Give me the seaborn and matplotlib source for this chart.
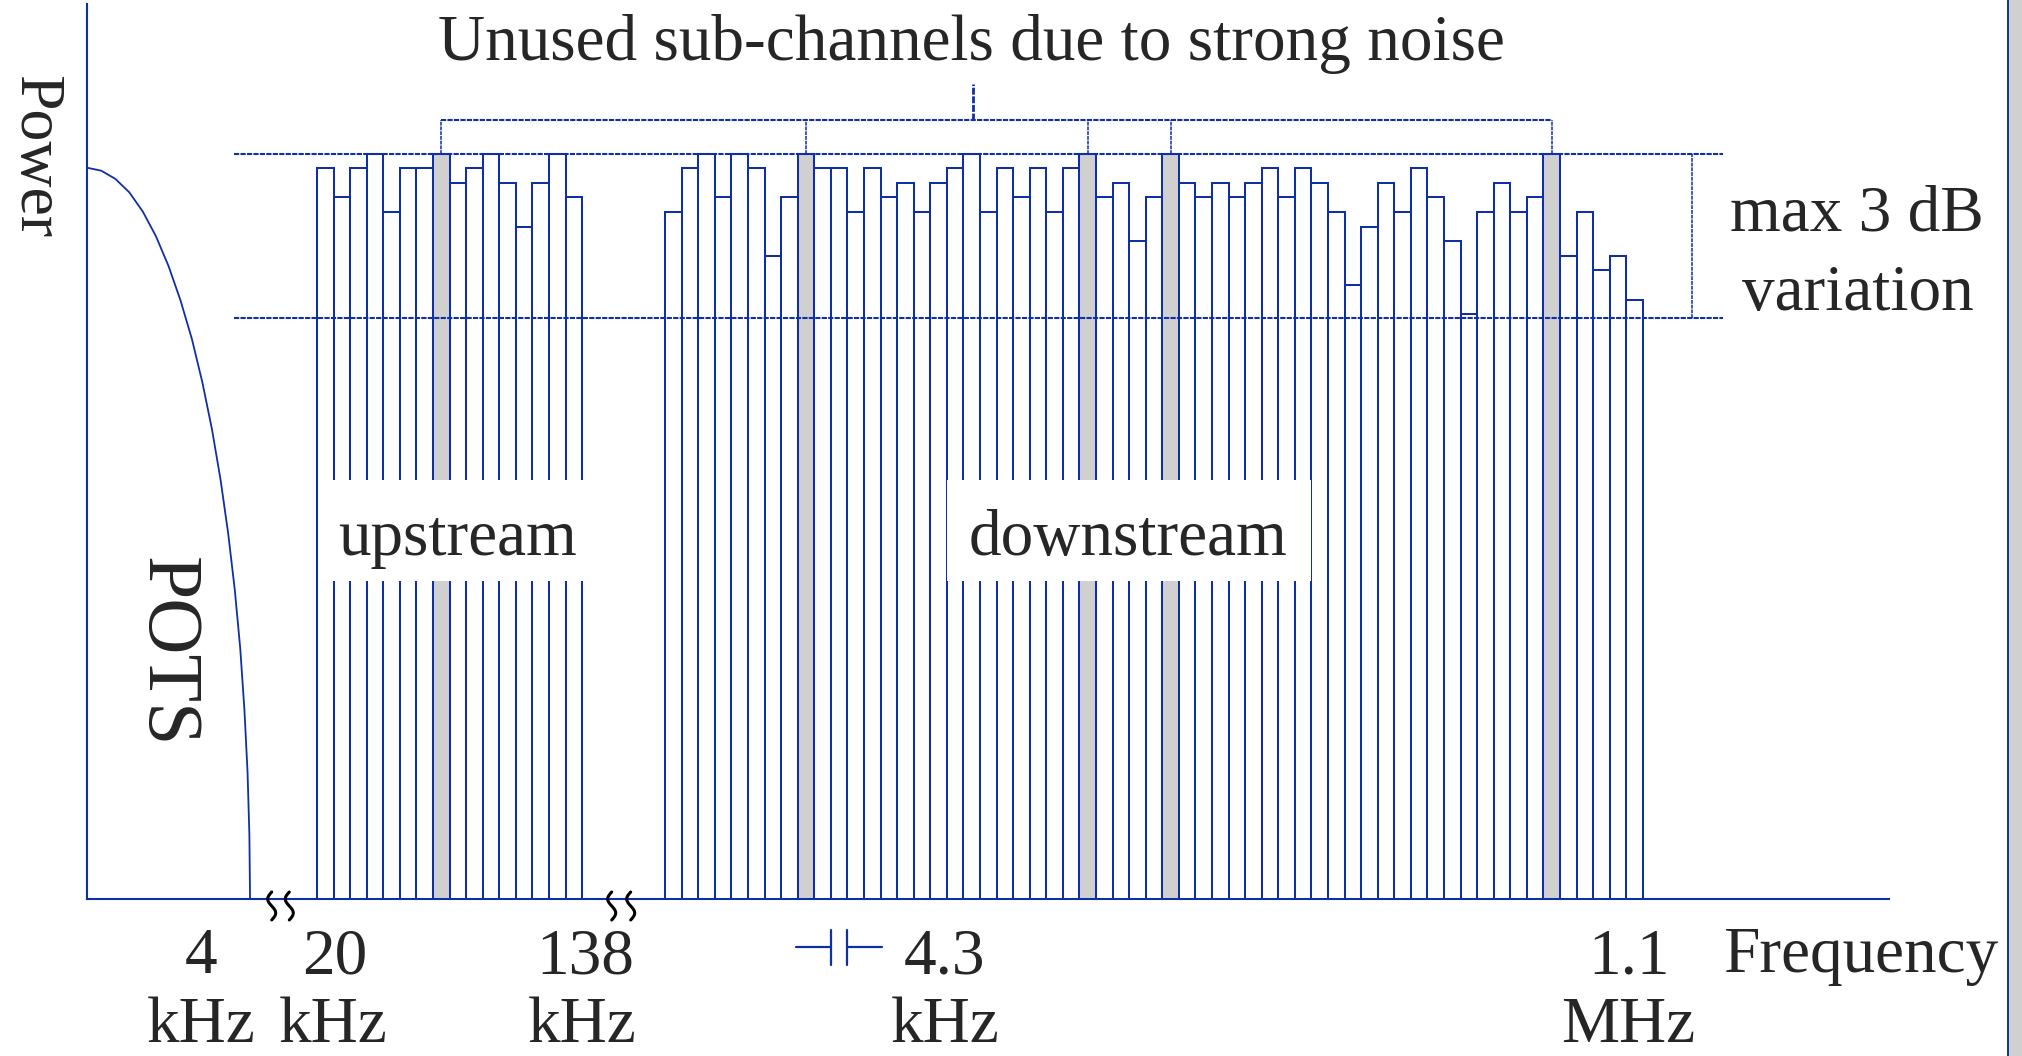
import numpy as np
import pandas as pd
import matplotlib
matplotlib.use("Agg")
import matplotlib.pyplot as plt
from matplotlib.patches import Rectangle
from matplotlib.lines import Line2D
import seaborn as sns

# ---------------- data ----------------
# relative power of each sub-channel (max level = 100)
upstream_power = [98.1, 94.2, 98.1, 100.0, 92.2, 98.1, 98.1, 100.0,
                  96.1, 98.1, 100.0, 96.1, 90.3, 96.1, 100.0, 94.2]
upstream_unused = [7]

downstream_power = [92.2, 98.1, 100.0, 94.2, 100.0, 98.1, 86.4, 94.2, 100.0, 98.1,
                    98.1, 92.2, 98.1, 94.2, 96.1, 92.2, 96.1, 98.1, 100.0, 92.2,
                    98.1, 94.2, 98.1, 92.2, 98.1, 100.0, 94.2, 96.1, 88.3, 94.2,
                    100.0, 96.1, 94.2, 96.1, 94.2, 96.1, 98.1, 94.2, 98.1, 96.1,
                    92.2, 82.5, 90.3, 96.1, 92.2, 98.1, 94.2, 88.3, 78.6, 92.2,
                    96.1, 92.2, 94.2, 100.0, 86.4, 92.2, 84.5, 86.4, 80.4]
downstream_unused = [8, 25, 30, 53]

max_level = 100.0
min_level = 78.0          # 3 dB below max

# POTS spectrum outline (x in sub-channel slots, relative power)
pots_x = [0, 0.86, 1.71, 2.55, 3.37, 4.16, 4.92, 5.64, 6.33, 6.96,
          7.54, 8.06, 8.52, 8.92, 9.25, 9.50, 9.69, 9.80, 9.84]
pots_p = [98.2, 97.8, 96.7, 94.9, 92.3, 89.0, 85.0, 80.4, 75.2, 69.4,
          63.1, 56.3, 49.1, 41.5, 33.6, 25.4, 17.0, 8.6, 0.0]

tick_values = ["4", "20", "138", "4.3", "1.1"]
tick_units = ["kHz", "kHz", "kHz", "kHz", "MHz"]

# ---------------- layout ----------------
W, H = 2022, 1056
BLUE = "#0f2fa6"
GRAY = "#d0d0d0"
SLOT_PX = 16.57
PWR_PX = 7.447
AX_L, AX_R, AX_T, AX_B = 87, 1889, 4, 899
UP_START = (317 - AX_L) / SLOT_PX
DOWN_START = (665.2 - AX_L) / SLOT_PX


def fx(px):
    return px / W


def fy(py):
    return 1 - py / H


def sx(px):
    return (px - AX_L) / SLOT_PX


def sy(py):
    return (AX_B - py) / PWR_PX


sns.set_theme(style="white")
plt.rcParams["font.family"] = ["Liberation Serif", "DejaVu Serif"]

fig = plt.figure(figsize=(W / 100, H / 100), dpi=100)
fig.patch.set_facecolor("white")
ax = fig.add_axes([fx(AX_L), fy(AX_B), (AX_R - AX_L) / W, (AX_B - AX_T) / H])
ax.set_facecolor("none")

up_x = UP_START + 0.5 + np.arange(len(upstream_power))
down_x = DOWN_START + 0.5 + np.arange(len(downstream_power))
status_up = ["unused" if i in upstream_unused else "used" for i in range(len(upstream_power))]
status_down = ["unused" if i in downstream_unused else "used" for i in range(len(downstream_power))]
df = pd.DataFrame({
    "slot": np.concatenate([up_x, down_x]),
    "power": upstream_power + downstream_power,
    "status": status_up + status_down,
})

sns.barplot(data=df, x="slot", y="power", hue="status",
            palette={"used": "white", "unused": GRAY},
            native_scale=True, width=1.0, dodge=False, errorbar=None,
            edgecolor=BLUE, linewidth=1.45, saturation=1, legend=False, ax=ax)

sns.lineplot(x=pots_x, y=pots_p, sort=False, estimator=None, color=BLUE,
             linewidth=1.3, ax=ax)

ax.set_xlim(0, (AX_R - AX_L) / SLOT_PX)
ax.set_ylim(0, (AX_B - AX_T) / PWR_PX)
ax.set_xticks([])
ax.set_yticks([])
ax.set_xlabel("")
ax.set_ylabel("")
for side in ["top", "right"]:
    ax.spines[side].set_visible(False)
for side in ["left", "bottom"]:
    ax.spines[side].set_color(BLUE)
    ax.spines[side].set_linewidth(1.5)
    ax.spines[side].set_zorder(0.5)

# max / min level dotted lines
dots = (0, (2.5, 0.6))
ax.hlines([max_level, min_level], sx(234), sx(1723), colors=BLUE, linewidth=1.5,
          linestyles=[dots], zorder=4)
ax.vlines(sx(1691.6), min_level, max_level, colors=BLUE, linewidth=1.1,
          linestyles=[dots], zorder=4)

# bracket for unused sub-channels
unused_centers = [up_x[i] for i in upstream_unused] + [down_x[i] for i in downstream_unused]
br_y = sy(120)
ax.hlines(br_y, min(unused_centers), max(unused_centers), colors=BLUE, linewidth=1.5,
          linestyles=[dots], zorder=4)
ax.vlines(unused_centers, max_level, br_y, colors=BLUE, linewidth=1.1,
          linestyles=[dots], zorder=4)
ax.vlines(sx(973), br_y, sy(84), colors=BLUE, linewidth=2.0, linestyles=[dots], zorder=4)

# white label boxes
for l, r in [(318.5, 585), (947, 1311)]:
    ax.add_patch(Rectangle((sx(l), sy(581)), sx(r) - sx(l), sy(480) - sy(581),
                           facecolor="white", edgecolor="none", zorder=5))

FS = 47
fig.text(fx(971.7), fy(60), "Unused sub-channels due to strong noise", ha="center",
         va="baseline", fontsize=FS)
fig.text(fx(34.6), fy(157), "Power", ha="center", va="center", rotation=-90, fontsize=46)
fig.text(fx(166), fy(652.5), "POTS", ha="center", va="center", rotation=-90, fontsize=56)
fig.text(fx(458), fy(555), "upstream", ha="center", va="baseline", fontsize=FS, zorder=6)
fig.text(fx(1127.6), fy(555), "downstream", ha="center", va="baseline", fontsize=FS, zorder=6)
fig.text(fx(1857), fy(230.7), "max 3 dB", ha="center", va="baseline", fontsize=FS)
fig.text(fx(1857.6), fy(310), "variation", ha="center", va="baseline", fontsize=FS)

val_x = [201, 334.6, 585, 944.5, 1629]
unit_x = [201.5, 333.6, 582, 945, 1628]
for s, x in zip(tick_values, val_x):
    fig.text(fx(x), fy(973), s, ha="center", va="baseline", fontsize=FS)
for s, x in zip(tick_units, unit_x):
    fig.text(fx(x), fy(1042), s, ha="center", va="baseline", fontsize=FS)
fig.text(fx(1860.5), fy(972), "Frequency", ha="center", va="baseline", fontsize=FS)

# axis break marks (small vertical wave strokes)
t = np.linspace(0, 1, 40)
for cx in [271.7, 289.3, 611.7, 630.7]:
    xs = cx - 4.0 * np.sin(2 * np.pi * t)
    ys = 892 + 28 * t
    fig.add_artist(Line2D(fx(xs), fy(ys), color="black", linewidth=2.2,
                          solid_capstyle="round", transform=fig.transFigure))

# sub-channel spacing symbol
for xs, ys in [([796, 831], [946.7, 946.7]), ([831, 831], [930, 965]),
               ([847, 847], [930, 965]), ([847, 882], [946.7, 946.7])]:
    fig.add_artist(Line2D([fx(v) for v in xs], [fy(v) for v in ys], color=BLUE,
                          linewidth=1.6, transform=fig.transFigure))

# slide edge on the right
fig.add_artist(Rectangle((fx(2008), 0), fx(2022) - fx(2008), 1, facecolor=GRAY,
                         edgecolor="none", transform=fig.transFigure))
fig.add_artist(Line2D([fx(2008), fx(2008)], [0, 1], color=BLUE, linewidth=1.4,
                      transform=fig.transFigure))

fig.savefig("out.png", dpi=100, facecolor="white")
